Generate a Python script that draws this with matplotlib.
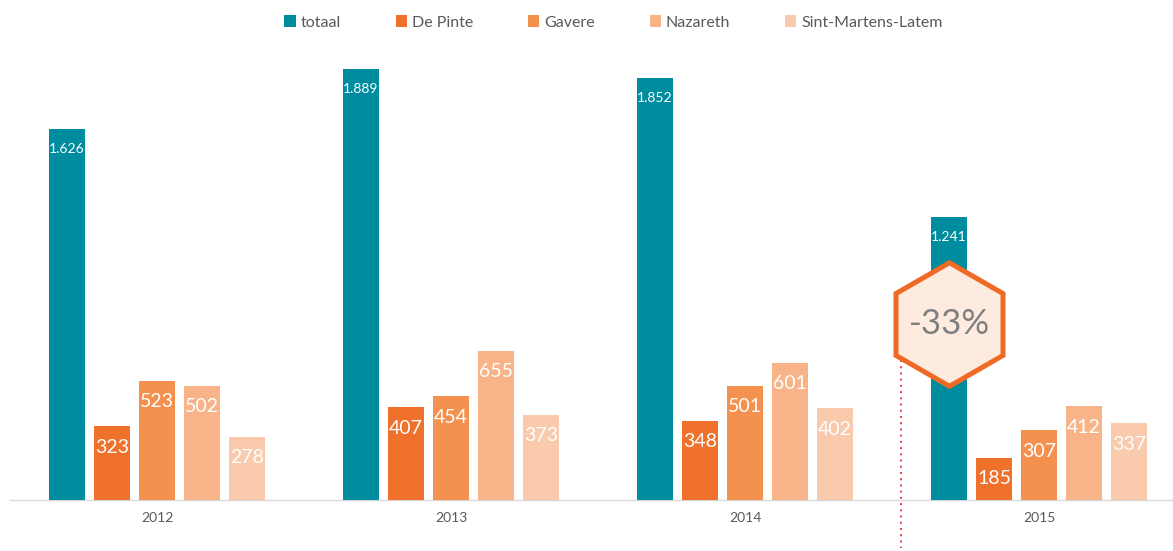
import numpy as np
import matplotlib
matplotlib.use("Agg")
import matplotlib.pyplot as plt
from matplotlib.patches import Patch

plt.rcParams['font.family'] = ['Lato', 'DejaVu Sans']

years = ["2012", "2013", "2014", "2015"]
series = ["totaal", "De Pinte", "Gavere", "Nazareth", "Sint-Martens-Latem"]
totaal = [1626, 1889, 1852, 1241]
de_pinte = [323, 407, 348, 185]
gavere = [523, 454, 501, 307]
nazareth = [502, 655, 601, 412]
sint_martens_latem = [278, 373, 402, 337]
change_label = "-33%"

values = [totaal, de_pinte, gavere, nazareth, sint_martens_latem]
colors = ["#008C9F", "#F0712B", "#F5914F", "#F8B389", "#FACAAD"]

fig = plt.figure(figsize=(11.73, 5.51), dpi=100)
ax = fig.add_axes([10 / 1173, 51 / 551, 1176 / 1173, 456 / 551])

x = np.arange(len(years))
pitch = 0.153
width = 0.122

def fmt(v):
    return f"{v:,}".replace(",", ".")

for i, (name, vals, col) in enumerate(zip(series, values, colors)):
    pos = x + (i - 2) * pitch
    ax.bar(pos, vals, width=width, color=col, label=name, zorder=2)
    size = 10 if i == 0 else 14
    off = -10 if i == 0 else -9
    for px, v in zip(pos, vals):
        ax.annotate(fmt(v), (px, v), xytext=(0, off), textcoords="offset points",
                    ha="center", va="top", color="white", fontsize=size, zorder=3)

ax.set_xlim(-0.5, 3.5)
ax.set_ylim(0, 2000)
ax.set_xticks(x)
ax.set_xticklabels(years, fontsize=10, color="#595959")
ax.tick_params(axis="x", length=0, pad=9)
ax.set_yticks([])
for s in ["top", "right", "left"]:
    ax.spines[s].set_visible(False)
ax.spines["bottom"].set_color("#D9D9D9")
ax.spines["bottom"].set_linewidth(1)
ax.spines["bottom"].set_zorder(1)

# dotted divider before the last year
ax.plot([2.53, 2.53], [614, -210], ls=(0, (1, 2.2)), color="#E0404A", lw=1.4,
        clip_on=False, zorder=1)

# hexagon badge with the drop of the total
hx = x[3] - 2 * pitch
hy = 772
ax.plot([hx], [hy], marker="h", markersize=89, markerfacecolor="#FDEBE0",
        markeredgecolor="#EF6A25", markeredgewidth=3.6, zorder=4, clip_on=False)
ax.text(hx, hy, change_label, ha="center", va="center", fontsize=25,
        color="#7F7F7F", zorder=5)

handles = [Patch(facecolor=c, label=n) for n, c in zip(series, colors)]
fig.legend(handles=handles, loc="upper center", bbox_to_anchor=(0.523, 0.998),
           ncol=5, frameon=False, fontsize=11.5, handlelength=0.7,
           handleheight=0.7, handletextpad=0.3, columnspacing=3.45,
           labelcolor="#595959")

fig.savefig("out.png", dpi=100)
